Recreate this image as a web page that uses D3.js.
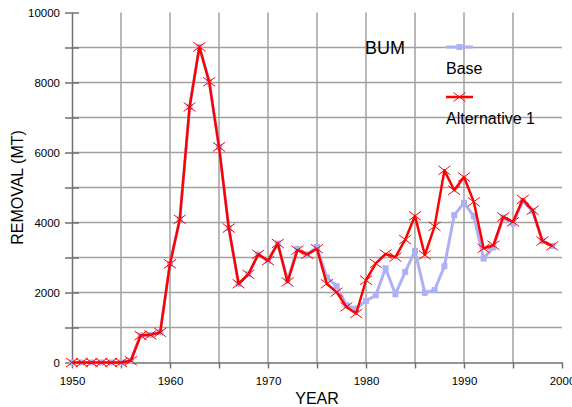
<!DOCTYPE html>
<html>
<head>
<meta charset="utf-8">
<script src="https://cdn.jsdelivr.net/npm/d3@7"></script>
<style>
  html, body { margin: 0; padding: 0; background: #fff; }
  svg { display: block; font-family: "Liberation Sans", Arial, sans-serif; }
</style>
</head>
<body>
<svg id="chart" width="572" height="407"></svg>
<script>
// ---- data ----
const years = d3.range(1950, 2000);
const alternative1 = [
  0, 0, 0, 0, 0, 0, 50, 770, 790, 860,
  2820, 4090, 7300, 9020, 8020, 6160, 3840, 2250, 2520, 3090,
  2910, 3400, 2300, 3210, 3090, 3250, 2250, 2010, 1590, 1400,
  2350, 2830, 3100, 3010, 3510, 4190, 3070, 3890, 5490, 4920,
  5300, 4590, 3260, 3350, 4160, 4020, 4660, 4350, 3470, 3330
];
const base = [
  0, 0, 0, 0, 0, 0, 50, 770, 790, 860,
  2820, 4090, 7300, 9020, 8020, 6160, 3840, 2250, 2520, 3090,
  2910, 3400, 2350, 3250, 3090, 3300, 2430, 2180, 1640, 1540,
  1760, 1920, 2690, 1950, 2590, 3190, 1990, 2070, 2750, 4210,
  4560, 4180, 2970, 3290, 4140, 3970, 4610, 4330, 3470, 3330
];
const yTicks = d3.range(0, 10001, 1000);
const yLabels = [0, 2000, 4000, 6000, 8000, 10000];
const xTicks = d3.range(1950, 2001, 5);
const xLabels = [1950, 1960, 1970, 1980, 1990, 2000];
const seriesNames = ["Base", "Alternative 1"];
const chartTitle = "BUM";

// ---- drawing ----
const svg = d3.select("#chart");
const x = d3.scaleLinear().domain([1950, 2000]).range([72, 562]);
const y = d3.scaleLinear().domain([0, 10000]).range([362.5, 12.5]);
const gridColor = "#a0a0a0";
const axisColor = "#707070";
const baseColor = "#aeb0f6";
const altColor = "#ff0000";

// gridlines
svg.append("g").selectAll("line.h")
  .data(yTicks.filter(d => d > 0 && d < 10000))
  .join("line")
  .attr("x1", x(1950)).attr("x2", x(2000))
  .attr("y1", d => y(d)).attr("y2", d => y(d))
  .attr("stroke", gridColor).attr("stroke-width", 1.5);
svg.append("g").selectAll("line.v")
  .data(xTicks.filter(d => d > 1950 && d < 2000))
  .join("line")
  .attr("x1", d => x(d)).attr("x2", d => x(d))
  .attr("y1", y(0)).attr("y2", y(10000))
  .attr("stroke", gridColor).attr("stroke-width", 1.5);

// axes
const yAxis = d3.axisLeft(y).tickValues(yTicks).tickSize(7).tickSizeOuter(0).tickPadding(5)
  .tickFormat(d => yLabels.includes(d) ? String(d) : "");
const gy = svg.append("g").attr("transform", `translate(${x(1950)},0)`).call(yAxis);
gy.selectAll(".tick line").attr("x2", -7).attr("x1", 7);
const xAxis = d3.axisBottom(x).tickValues(xTicks).tickSize(6).tickSizeOuter(0).tickPadding(5)
  .tickFormat(d => xLabels.includes(d) ? String(d) : "");
const gx = svg.append("g").attr("transform", `translate(0,${y(0)})`).call(xAxis);
gx.selectAll(".tick text").attr("y", 14);
[gx, gy].forEach(g => {
  g.select(".domain").attr("stroke", axisColor).attr("stroke-width", 1.5);
  g.selectAll(".tick line").attr("stroke", axisColor).attr("stroke-width", 1.5);
  g.selectAll(".tick text").attr("fill", "#000")
    .style("font-family", '"Liberation Sans", Arial, sans-serif').style("font-size", "11.5px");
});

// axis titles
svg.append("text").attr("x", (x(1950) + x(2000)) / 2).attr("y", 404)
  .attr("text-anchor", "middle").style("font-size", "16px").text("YEAR");
svg.append("text").attr("transform", `translate(23,${(y(0) + y(10000)) / 2}) rotate(-90)`)
  .attr("text-anchor", "middle").style("font-size", "16px").text("REMOVAL (MT)");

const line = d3.line().x((d, i) => x(years[i])).y(d => y(d));

// base series
svg.append("path").datum(base).attr("d", line)
  .attr("fill", "none").attr("stroke", baseColor).attr("stroke-width", 3).attr("stroke-linejoin", "round");
svg.append("g").selectAll("rect").data(base).join("rect")
  .attr("x", (d, i) => x(years[i]) - 3).attr("y", d => y(d) - 3)
  .attr("width", 6).attr("height", 6).attr("fill", baseColor);

// alternative 1 series
svg.append("path").datum(alternative1).attr("d", line)
  .attr("fill", "none").attr("stroke", altColor).attr("stroke-width", 2.5).attr("stroke-linejoin", "round");
const cross = (cx, cy) => `M${cx - 6},${cy - 4.5}L${cx + 6},${cy + 4.5}M${cx - 6},${cy + 4.5}L${cx + 6},${cy - 4.5}`;
svg.append("g").selectAll("path").data(alternative1).join("path")
  .attr("d", (d, i) => cross(x(years[i]), y(d)))
  .attr("stroke", altColor).attr("stroke-width", 1).attr("fill", "none");

// legend
svg.append("text").attr("x", 365).attr("y", 54).style("font-size", "18px").text(chartTitle);
svg.append("line").attr("x1", 446).attr("x2", 473).attr("y1", 47).attr("y2", 47)
  .attr("stroke", baseColor).attr("stroke-width", 3);
svg.append("rect").attr("x", 456.5).attr("y", 44).attr("width", 6).attr("height", 6).attr("fill", baseColor);
svg.append("text").attr("x", 446).attr("y", 74).style("font-size", "16px").text(seriesNames[0]);
svg.append("line").attr("x1", 446).attr("x2", 473).attr("y1", 97).attr("y2", 97)
  .attr("stroke", altColor).attr("stroke-width", 2.5);
svg.append("path").attr("d", cross(459.5, 97)).attr("stroke", altColor).attr("stroke-width", 1).attr("fill", "none");
svg.append("text").attr("x", 446).attr("y", 124).style("font-size", "16px").text(seriesNames[1]);
</script>
</body>
</html>
